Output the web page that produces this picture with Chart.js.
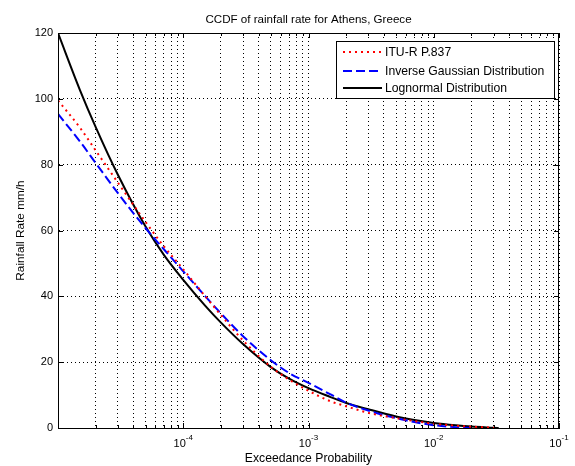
<!DOCTYPE html>
<html>
<head>
<meta charset="utf-8">
<script src="https://cdn.jsdelivr.net/npm/chart.js@4.4.1/dist/chart.umd.min.js"></script>
<style>
  html, body { margin: 0; padding: 0; background: #fff; }
</style>
</head>
<body>
<canvas id="ccdf" width="575" height="466"></canvas>
<script>
// exceedance probabilities (x) and rain rates in mm/h
const probability = [1e-5, 1.5e-5, 2e-5, 3e-5, 5e-5, 7e-5, 1e-4, 1.5e-4, 2e-4, 3e-4, 5e-4, 7e-4,
  1e-3, 1.5e-3, 2e-3, 3e-3, 5e-3, 7e-3, 1e-2, 1.5e-2, 2e-2, 3e-2, 3.3e-2];
const ituR = [99.5, 91.2, 84.3, 74.6, 62.6, 55.2, 48.2, 40.0, 34.3, 26.6, 18.6, 14.7,
  11.3, 8.1, 6.6, 4.6, 3.0, 2.1, 1.3, 0.7, 0.4, 0.1, 0];
const inverseGaussian = [95.4, 87.0, 80.5, 71.4, 60.7, 54.3, 47.6, 40.0, 34.8, 27.9, 20.6, 16.7,
  13.7, 10.2, 7.7, 5.3, 3.0, 1.8, 0.85, 0.25, 0];
const lognormal = [120, 102.6, 91.4, 77.0, 61.2, 52.6, 45.0, 37.1, 32.0, 25.5, 18.5, 15.0,
  12.1, 9.4, 7.6, 5.7, 3.5, 2.4, 1.5, 0.8, 0.43, 0.08, 0];

const seriesNames = ['ITU-R P.837', 'Inverse Gaussian Distribution', 'Lognormal Distribution'];

// x axis: labelled decades and the minor grid steps inside each decade
const majorTicks = [1e-4, 1e-3, 1e-2, 1e-1];
const tickExponents = ['-4', '-3', '-2', '-1'];
const decades = [1e-5, 1e-4, 1e-3, 1e-2];
const steps = [1, 2, 3, 4, 5, 6, 7, 8, 9];
const yTicks = [0, 20, 40, 60, 80, 100, 120];

const FONT = '"Liberation Sans", Arial, sans-serif';

const toPoints = vals => vals.map((v, i) => ({ x: probability[i], y: v }));

let gridValues = [];
decades.forEach(d => steps.forEach(s => gridValues.push(d * s)));
gridValues.push(1e-1);

// box around the axes + small inside tick marks (matlab style)
const axesBox = {
  id: 'axesBox',
  afterDraw(chart) {
    const { ctx, chartArea: a, scales: { x, y } } = chart;
    ctx.save();
    ctx.strokeStyle = '#000';
    ctx.lineWidth = 1;
    ctx.beginPath();
    gridValues.forEach(v => {
      const px = Math.round(x.getPixelForValue(v)) + 0.5;
      const len = majorTicks.includes(v) ? 5 : 3;
      ctx.moveTo(px, a.bottom); ctx.lineTo(px, a.bottom - len);
      ctx.moveTo(px, a.top); ctx.lineTo(px, a.top + len);
    });
    yTicks.forEach(v => {
      const py = Math.round(y.getPixelForValue(v)) + 0.5;
      ctx.moveTo(a.left, py); ctx.lineTo(a.left + 5, py);
      ctx.moveTo(a.right, py); ctx.lineTo(a.right - 5, py);
    });
    ctx.stroke();
    ctx.strokeRect(Math.round(a.left) + 0.5, Math.round(a.top) + 0.5,
      Math.round(a.right - a.left) - 1, Math.round(a.bottom - a.top));

    // 10^n tick labels
    ctx.fillStyle = '#000';
    ctx.textBaseline = 'alphabetic';
    ctx.textAlign = 'left';
    majorTicks.forEach((v, i) => {
      const px = x.getPixelForValue(v);
      ctx.font = '11px ' + FONT;
      const bw = ctx.measureText('10').width;
      ctx.font = '8px ' + FONT;
      const ew = ctx.measureText(tickExponents[i]).width;
      const left = px - (bw + ew) / 2;
      ctx.font = '11px ' + FONT;
      ctx.fillText('10', left, 447);
      ctx.font = '8px ' + FONT;
      ctx.fillText(tickExponents[i], left + bw, 440);
    });
    ctx.restore();
  }
};

// legend box in the upper right of the axes
const boxLegend = {
  id: 'boxLegend',
  afterDraw(chart) {
    const ctx = chart.ctx;
    ctx.save();
    ctx.fillStyle = '#fff';
    ctx.fillRect(336, 41, 218, 57);
    ctx.strokeStyle = '#000';
    ctx.lineWidth = 1;
    ctx.strokeRect(336.5, 41.5, 218, 57);
    const rows = [52, 71, 88];
    chart.data.datasets.forEach((ds, i) => {
      ctx.beginPath();
      ctx.strokeStyle = ds.borderColor;
      ctx.lineWidth = ds.borderWidth;
      ctx.setLineDash(ds.borderDash || []);
      ctx.moveTo(343, rows[i]);
      ctx.lineTo(382, rows[i]);
      ctx.stroke();
      ctx.setLineDash([]);
      ctx.fillStyle = '#000';
      ctx.font = '12.2px ' + FONT;
      ctx.textBaseline = 'middle';
      ctx.fillText(ds.label, 385, rows[i] + 1);
    });
    ctx.restore();
  }
};

new Chart(document.getElementById('ccdf'), {
  type: 'line',
  data: {
    datasets: [
      {
        label: seriesNames[0],
        data: toPoints(ituR),
        borderColor: '#ff0000',
        borderWidth: 2,
        borderDash: [2, 4],
        pointRadius: 0,
        cubicInterpolationMode: 'monotone'
      },
      {
        label: seriesNames[1],
        data: toPoints(inverseGaussian),
        borderColor: '#0000ff',
        borderWidth: 2,
        borderDash: [9, 4],
        pointRadius: 0,
        cubicInterpolationMode: 'monotone'
      },
      {
        label: seriesNames[2],
        data: toPoints(lognormal),
        borderColor: '#000000',
        borderWidth: 2,
        pointRadius: 0,
        cubicInterpolationMode: 'monotone'
      }
    ]
  },
  options: {
    responsive: false,
    animation: false,
    layout: { padding: { left: 0, right: 16, top: 0, bottom: 0 } },
    plugins: {
      legend: { display: false },
      tooltip: { enabled: false },
      title: {
        display: true,
        text: 'CCDF of rainfall rate for Athens, Greece',
        fullSize: false,
        color: '#000',
        font: { family: FONT, size: 11.6, weight: 'normal', lineHeight: '13px' },
        padding: { top: 13, bottom: 7 }
      }
    },
    scales: {
      x: {
        type: 'logarithmic',
        min: 1e-5,
        max: 1e-1,
        afterBuildTicks: scale => { scale.ticks = gridValues.map(v => ({ value: v })); },
        afterFit: scale => { scale.height = 38; },
        ticks: { display: false, autoSkip: false },
        grid: { color: '#000', lineWidth: 1, drawTicks: false },
        border: { display: true, color: '#000', width: 1, dash: [1, 3] },
        title: {
          display: true,
          text: 'Exceedance Probability',
          color: '#000',
          font: { family: FONT, size: 12.2 },
          padding: { top: 0, bottom: 0 }
        }
      },
      y: {
        min: 0,
        max: 120,
        afterBuildTicks: scale => { scale.ticks = yTicks.map(v => ({ value: v })); },
        afterFit: scale => { scale.width = 58; },
        ticks: { color: '#000', font: { family: FONT, size: 11 }, padding: 5 },
        grid: { color: '#000', lineWidth: 1, drawTicks: false },
        border: { display: true, color: '#000', width: 1, dash: [1, 3] },
        title: {
          display: true,
          text: 'Rainfall Rate mm/h',
          color: '#000',
          font: { family: FONT, size: 11.8 },
          padding: { top: 14, bottom: 0 }
        }
      }
    }
  },
  plugins: [axesBox, boxLegend]
});
</script>
</body>
</html>
